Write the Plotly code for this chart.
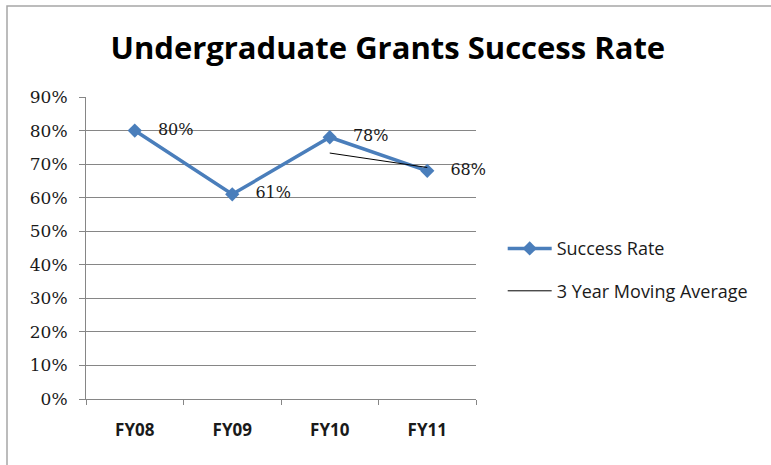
import plotly.graph_objects as go

# Data
years = ["FY08", "FY09", "FY10", "FY11"]
success_rate = [0.80, 0.61, 0.78, 0.68]
success_labels = ["80%", "61%", "78%", "68%"]
moving_avg = [None, None, 0.733, 0.69]
y_ticks = [0, 0.1, 0.2, 0.3, 0.4, 0.5, 0.6, 0.7, 0.8, 0.9]

W, H = 771, 465
L, R, T, B = 86, 295, 97, 66

fig = go.Figure()

# Success rate series
fig.add_trace(go.Scatter(
    x=years, y=success_rate,
    mode='lines+markers+text',
    name='Success Rate',
    text=["   " + s for s in success_labels],
    textposition='middle right',
    textfont=dict(family="DejaVu Serif", size=16, color="#1a1a1a"),
    line=dict(color='#4a7ebb', width=3.5),
    marker=dict(symbol='diamond', size=11, color='#4a7ebb'),
    cliponaxis=False,
    legendgroup='a'
))

# 3 year moving average
fig.add_trace(go.Scatter(
    x=years, y=moving_avg,
    mode='lines',
    name='3 Year Moving Average',
    line=dict(color='black', width=1),
    legendgroup='b'
))

# Outer chart border (extends off the right/bottom edges)
fig.add_shape(type='rect', xref='paper', yref='paper',
              x0=(7 - L) / (W - L - R), x1=(W + 20 - L) / (W - L - R),
              y0=-(H + 20 - (H - B)) / (H - T - B), y1=(H - 6 - B) / (H - T - B),
              line=dict(color='#a6a6a6', width=1.5), layer='below')

fig.update_xaxes(
    type='category',
    range=[-0.5, 3.5],
    automargin=False,
    showgrid=False,
    showline=True, linecolor='#868686', linewidth=1,
    ticks='outside', ticklen=5, tickcolor='#868686',
    tickson='boundaries',
    tickfont=dict(family="Open Sans", size=17, color='#1a1a1a', weight='bold'),
    ticklabelstandoff=16
)
fig.update_yaxes(
    range=[0, 0.9],
    automargin=False,
    tickvals=y_ticks,
    tickformat='.0%',
    showgrid=True, gridcolor='#868686', gridwidth=1,
    showline=True, linecolor='#868686', linewidth=1,
    ticks='outside', ticklen=6, tickcolor='#868686',
    zeroline=False,
    tickfont=dict(family="DejaVu Serif", size=17, color='#1a1a1a'),
    ticklabelstandoff=8
)

fig.update_layout(
    width=W, height=H,
    margin=dict(l=L, r=R, t=T, b=B, autoexpand=False),
    paper_bgcolor='white', plot_bgcolor='white',
    title=dict(text="<b>Undergraduate Grants Success Rate</b>",
               x=0.503, xanchor='center', y=0.897, yanchor='middle',
               font=dict(family="Open Sans", size=31, color='black')),
    legend=dict(xref='container', yref='container', x=0.652, y=0.42, yanchor='middle', xanchor='left',
                tracegroupgap=16, traceorder='grouped', itemwidth=44,
                font=dict(family="Open Sans", size=18, color='#1a1a1a')),
    showlegend=True
)

fig.write_html("out.html", config={'displayModeBar': False},
               post_script="document.body.style.margin='0';")
